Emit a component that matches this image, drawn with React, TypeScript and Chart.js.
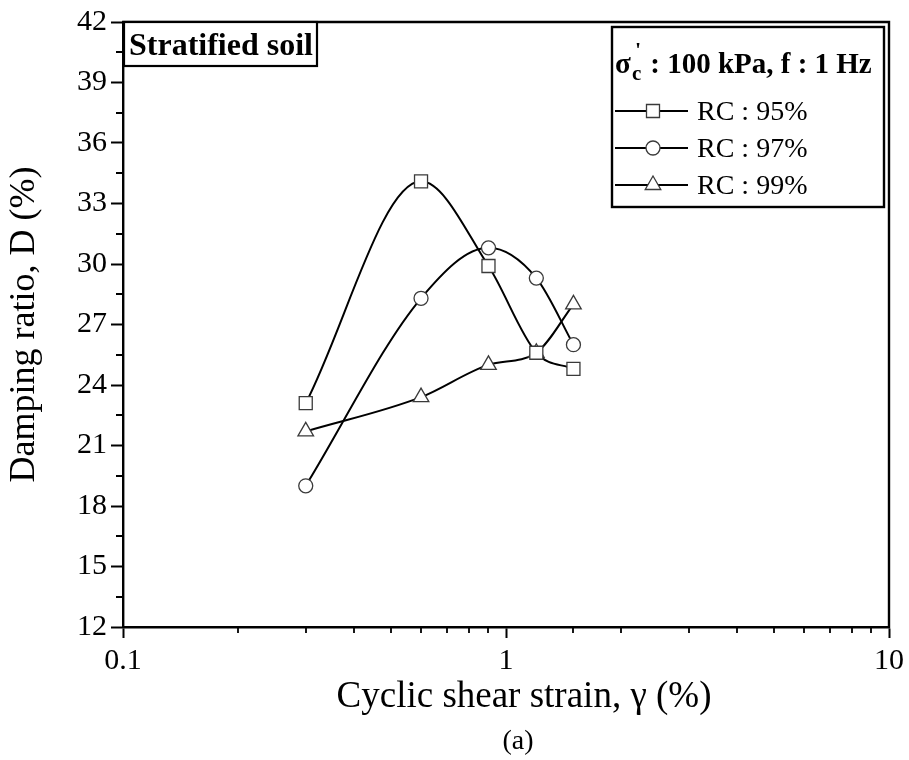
import React, { useEffect, useRef } from "react";
import { Chart, registerables } from "chart.js";

Chart.register(...registerables);

// Cyclic shear strain (%) at which damping was measured
const strain = [0.3, 0.6, 0.9, 1.2, 1.5];
// Damping ratio D (%) for each relative compaction
const dampingRC95 = [23.1, 34.1, 29.9, 25.6, 24.8];
const dampingRC97 = [19.0, 28.3, 30.8, 29.3, 26.0];
const dampingRC99 = [21.7, 23.4, 25.0, 25.6, 28.0];
const seriesLabels = ["RC : 95%", "RC : 97%", "RC : 99%"];
const seriesMarkers = ["rect", "circle", "triangle"];

const yMin = 12;
const yMax = 42;
const yStep = 3;
const xMin = 0.1;
const xMax = 10;

const xTitle = "Cyclic shear strain, \u03b3 (%)";
const yTitle = "Damping ratio, D (%)";
const panelTag = "(a)";
const soilNote = "Stratified soil";
const legendHead = " : 100 kPa, f : 1 Hz";

const SERIF = "'Liberation Serif', 'Times New Roman', Times, serif";

const isDecade = (v: number) =>
  Math.abs(Math.log10(v) - Math.round(Math.log10(v))) < 1e-9;

const markerRadius: Record<string, number> = { rect: 9.2, circle: 7, triangle: 9 };

function drawMarker(ctx: CanvasRenderingContext2D, style: string, x: number, y: number) {
  const r = markerRadius[style];
  ctx.beginPath();
  if (style === "rect") {
    const h = r * Math.SQRT1_2;
    ctx.rect(x - h, y - h, 2 * h, 2 * h);
  } else if (style === "circle") {
    ctx.arc(x, y, r, 0, Math.PI * 2);
  } else {
    let a = 0;
    ctx.moveTo(x + Math.sin(a) * r, y - Math.cos(a) * r);
    a += (2 * Math.PI) / 3;
    ctx.lineTo(x + Math.sin(a) * r, y - Math.cos(a) * r);
    a += (2 * Math.PI) / 3;
    ctx.lineTo(x + Math.sin(a) * r, y - Math.cos(a) * r);
    ctx.closePath();
  }
  ctx.fillStyle = "#fff";
  ctx.fill();
  ctx.lineWidth = 1.3;
  ctx.strokeStyle = "#3a3a3a";
  ctx.stroke();
}

// Frame, minor ticks, x-axis title, annotation box and the legend box
const decorPlugin = {
  id: "decor",
  afterDraw(chart: any) {
    const { ctx, chartArea: a, scales } = chart;
    const xs = scales.x;
    const ys = scales.y;
    ctx.save();

    // top and right frame edges
    ctx.strokeStyle = "#000";
    ctx.lineWidth = 2.4;
    ctx.beginPath();
    ctx.moveTo(a.left - 1, a.top);
    ctx.lineTo(a.right, a.top);
    ctx.lineTo(a.right, a.bottom + 1);
    ctx.stroke();

    // minor ticks
    ctx.lineWidth = 1.8;
    ctx.beginPath();
    xs.ticks.forEach((t: any) => {
      if (!isDecade(t.value)) {
        const px = Math.round(xs.getPixelForValue(t.value));
        ctx.moveTo(px, a.bottom);
        ctx.lineTo(px, a.bottom + 6);
      }
    });
    for (let i = 0; i < ys.ticks.length - 1; i++) {
      const mid = (ys.ticks[i].value + ys.ticks[i + 1].value) / 2;
      const py = Math.round(ys.getPixelForValue(mid));
      ctx.moveTo(a.left - 7, py);
      ctx.lineTo(a.left, py);
    }
    ctx.stroke();

    // x-axis title and panel tag
    ctx.fillStyle = "#000";
    ctx.textAlign = "center";
    ctx.textBaseline = "alphabetic";
    ctx.font = `37px ${SERIF}`;
    ctx.fillText(xTitle, 524, 707);
    ctx.font = `28px ${SERIF}`;
    ctx.fillText(panelTag, 518, 749);

    // soil annotation box
    ctx.fillStyle = "#fff";
    ctx.fillRect(a.left, a.top, 194, 44);
    ctx.strokeStyle = "#000";
    ctx.lineWidth = 2.2;
    ctx.strokeRect(a.left + 1, a.top, 193, 44);
    ctx.fillStyle = "#000";
    ctx.textAlign = "left";
    ctx.font = `bold 32px ${SERIF}`;
    ctx.fillText(soilNote, a.left + 6, a.top + 33);

    // legend box
    const lx = 612;
    const ly = 27;
    ctx.fillStyle = "#fff";
    ctx.fillRect(lx, ly, 272, 180);
    ctx.lineWidth = 2.4;
    ctx.strokeRect(lx, ly, 272, 180);
    ctx.fillStyle = "#000";
    ctx.font = `bold 29px ${SERIF}`;
    ctx.fillText("\u03c3", lx + 3, ly + 46);
    ctx.font = `bold 21px ${SERIF}`;
    ctx.fillText("c", lx + 20, ly + 53);
    ctx.font = `bold 22px ${SERIF}`;
    ctx.fillText("'", lx + 23, ly + 30);
    ctx.font = `bold 29px ${SERIF}`;
    ctx.fillText(legendHead, lx + 31, ly + 46);

    const rows = [ly + 84, ly + 121, ly + 158];
    chart.data.datasets.forEach((ds: any, i: number) => {
      const cy = rows[i];
      ctx.strokeStyle = "#000";
      ctx.lineWidth = 2;
      ctx.beginPath();
      ctx.moveTo(lx + 3, cy);
      ctx.lineTo(lx + 76, cy);
      ctx.stroke();
      drawMarker(ctx, ds.pointStyle, lx + 41, cy);
      ctx.fillStyle = "#000";
      ctx.font = `28px ${SERIF}`;
      ctx.fillText(ds.label, lx + 85, cy + 9);
    });

    ctx.restore();
  },
};

function makeSeries(label: string, values: number[], marker: string) {
  return {
    label,
    data: strain.map((x, i) => ({ x, y: values[i] })),
    borderColor: "#000",
    borderWidth: 2,
    cubicInterpolationMode: "monotone" as const,
    pointStyle: marker,
    pointRadius: markerRadius[marker],
    pointBackgroundColor: "#fff",
    pointBorderColor: "#3a3a3a",
    pointBorderWidth: 1.3,
    fill: false,
  };
}

export default function App() {
  const canvasRef = useRef<HTMLCanvasElement>(null);

  useEffect(() => {
    const canvas = canvasRef.current;
    if (!canvas) return;
    const chart = new Chart(canvas, {
      type: "line",
      data: {
        datasets: [
          makeSeries(seriesLabels[0], dampingRC95, seriesMarkers[0]),
          makeSeries(seriesLabels[1], dampingRC97, seriesMarkers[1]),
          makeSeries(seriesLabels[2], dampingRC99, seriesMarkers[2]),
        ] as any,
      },
      options: {
        responsive: false,
        animation: false,
        devicePixelRatio: 1,
        layout: { padding: { top: 21, right: 20, bottom: 0, left: 0 } },
        plugins: {
          legend: { display: false },
          tooltip: { enabled: false },
        },
        scales: {
          x: {
            type: "logarithmic",
            min: xMin,
            max: xMax,
            border: { display: true, color: "#000", width: 2.4 },
            grid: {
              drawOnChartArea: false,
              drawTicks: true,
              tickLength: 11,
              tickWidth: 2,
              tickColor: (c: any) =>
                c.tick && isDecade(c.tick.value) ? "#000" : "rgba(0,0,0,0)",
            },
            ticks: {
              autoSkip: false,
              maxRotation: 0,
              padding: 5,
              color: "#000",
              font: { family: SERIF, size: 30 },
              callback: (v: any) => (isDecade(Number(v)) ? String(Number(v)) : ""),
            },
            afterFit: (s: any) => {
              s.height = 133;
            },
          },
          y: {
            type: "linear",
            min: yMin,
            max: yMax,
            border: { display: true, color: "#000", width: 2.4 },
            grid: {
              drawOnChartArea: false,
              drawTicks: true,
              tickLength: 12,
              tickWidth: 2,
              tickColor: "#000",
            },
            ticks: {
              stepSize: yStep,
              padding: 4,
              color: "#000",
              font: { family: SERIF, size: 30 },
            },
            title: {
              display: true,
              text: yTitle,
              color: "#000",
              font: { family: SERIF, size: 36 },
              padding: { top: 3, bottom: 0 },
            },
            afterFit: (s: any) => {
              s.width = 123;
            },
          },
        },
      } as any,
      plugins: [decorPlugin],
    });
    return () => chart.destroy();
  }, []);

  return (
    <div style={{ position: "fixed", left: 0, top: 0, width: 909, height: 760, background: "#fff" }}>
      <canvas ref={canvasRef} width={909} height={760} />
    </div>
  );
}
